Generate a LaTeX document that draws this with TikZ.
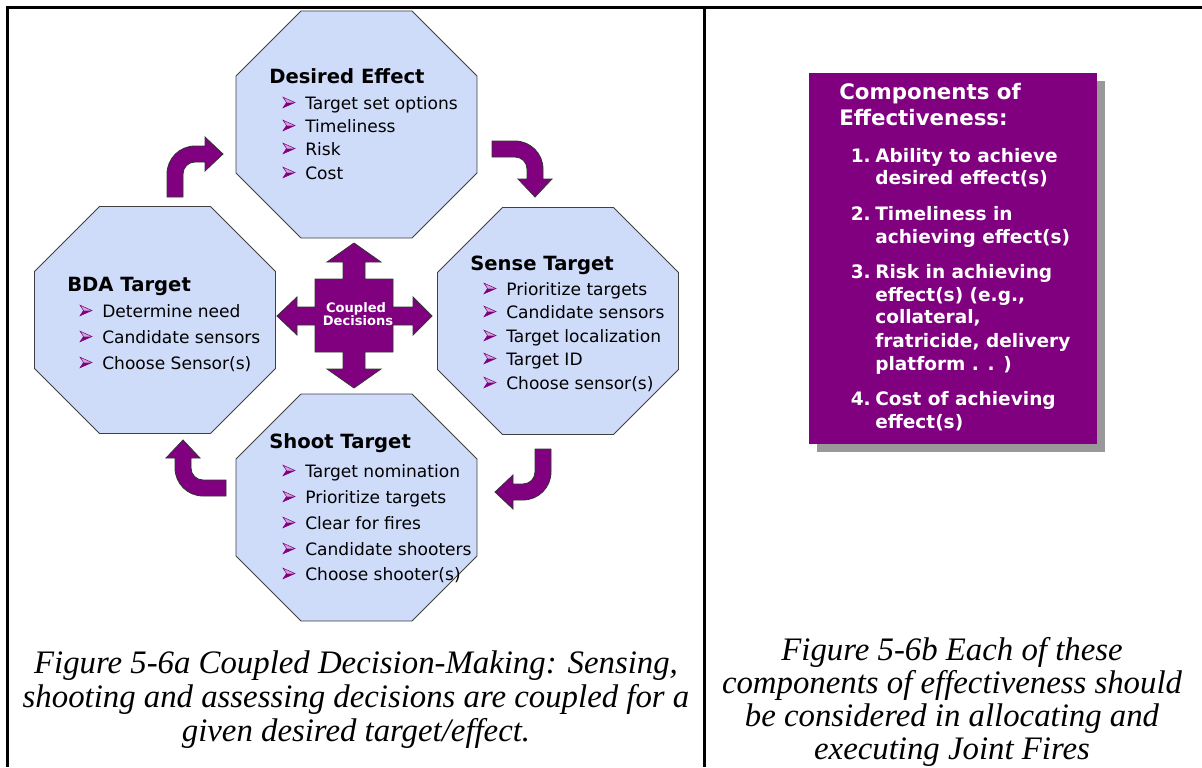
\documentclass[tikz,border=0pt]{standalone}
\usepackage{fontspec}
\setmainfont{DejaVu Sans}
\newfontfamily\capfont{Liberation Serif}
\definecolor{octfill}{RGB}{206,220,250}
\definecolor{purp}{RGB}{128,0,128}
\definecolor{shad}{RGB}{153,153,153}
\tikzset{
  octo/.style={fill=octfill, draw=black!75, line width=0.6pt, line join=miter},
  blockarrow/.style={fill=purp, draw=black!80, line width=0.6pt, line join=miter},
  framerule/.style={line width=2.25pt, black},
  ttl/.style={anchor=base west, inner sep=0pt, font=\fontsize{14.7}{17}\selectfont\bfseries},
  itm/.style={anchor=base west, inner sep=0pt, font=\fontsize{12.8}{15}\selectfont},
  boxttl/.style={anchor=base west, inner sep=0pt, text=white, font=\fontsize{16}{19}\selectfont\bfseries},
  boxnum/.style={anchor=base east, inner sep=0pt, text=white, font=\fontsize{13.9}{17}\selectfont\bfseries},
  boxtxt/.style={anchor=base west, inner sep=0pt, text=white, font=\fontsize{13.9}{17}\selectfont\bfseries},
  cpl/.style={anchor=base, inner sep=0pt, text=white, font=\fontsize{9.8}{11}\selectfont\bfseries},
  capt/.style={anchor=base, inner sep=0pt, font=\fontsize{24.6}{28}\selectfont\capfont\itshape},
  bul/.pic={
    \fill[purp!35] (-6,-5.3) -- (6,0) -- (-2.5,0) -- cycle;
    \fill[purp] (-2.5,0) -- (6,0) -- (-6,5.3) -- cycle;
    \draw[purp, line width=0.4pt, line join=miter] (-6,-5.3) -- (6,0) -- (-6,5.3) -- (-2.5,0) -- cycle;
  }
}
\newcommand\octagonat[3]{%
  \begin{scope}[shift={(#2,#3)}]
    \draw[octo] (-55.5,-113.5) -- (55.5,-113.5) -- (120.5,-48.5) -- (120.5,48.5)
      -- (55.5,113.5) -- (-55.5,113.5) -- (-120.5,48.5) -- (-120.5,-48.5) -- cycle;
    \coordinate (#1) at (0,0);
  \end{scope}}
\newcommand\bulitem[4]{%
  \pic at (#2-16,#3-6.5) {bul};
  \node[itm] (#1) at (#2,#3) {#4};}
\newcommand\bentarrow[4]{%
  \begin{scope}[shift={(#2,#3)}, rotate=#4]
    \draw[blockarrow] (0,0) -- (-18,-17) -- (-18,-8) -- (-28,-8)
      .. controls (-43.46,-8) and (-56,4.54) .. (-56,20) -- (-56,43) -- (-40,43) -- (-40,20)
      .. controls (-40,13.37) and (-34.63,8) .. (-28,8) -- (-18,8) -- (-18,17) -- cycle;
    \coordinate (#1) at (0,0);
  \end{scope}}
\begin{document}
\begin{tikzpicture}[x=0.75pt, y=-0.75pt]
\useasboundingbox (0,0) rectangle (1202,767);
% frame
\coordinate (tr) at (1202,7.5);
\coordinate (bl) at (7.5,767);
\coordinate (mt) at (704.5,7.5);
\coordinate (mb) at (704.5,767);
\draw[framerule] (tr) -- (7.5,7.5) -- (bl);
\draw[framerule] (mt) -- (mb);

% octagons
\octagonat{desired}{356.5}{124.5}
\octagonat{bda}{155}{320}
\octagonat{sense}{558}{321}
\octagonat{shoot}{356.5}{507.5}

% Desired Effect
\node[ttl] (tdes) at (269,84) {Desired Effect};
\bulitem{d1}{305}{109}{Target set options}
\bulitem{d2}{305}{132}{Timeliness}
\bulitem{d3}{305}{155}{Risk}
\bulitem{d4}{305}{179}{Cost}

% Sense Target
\node[ttl] (tsen) at (470,270) {Sense Target};
\bulitem{s1}{506}{295}{Prioritize targets}
\bulitem{s2}{506}{318}{Candidate sensors}
\bulitem{s3}{506}{342}{Target localization}
\bulitem{s4}{506}{365}{Target ID}
\bulitem{s5}{506}{389}{Choose sensor(s)}

% BDA Target
\node[ttl] (tbda) at (67,291) {BDA Target};
\bulitem{b1}{102}{317}{Determine need}
\bulitem{b2}{102}{343}{Candidate sensors}
\bulitem{b3}{102}{369}{Choose Sensor(s)}

% Shoot Target
\node[ttl] (tsho) at (269,448) {Shoot Target};
\bulitem{h1}{305}{477}{Target nomination}
\bulitem{h2}{305}{503}{Prioritize targets}
\bulitem{h3}{305}{529}{Clear for fires}
\bulitem{h4}{305}{555}{Candidate shooters}
\bulitem{h5}{305}{580}{Choose shooter(s)}

% bent arrows
\bentarrow{a1}{223}{154}{0}
\bentarrow{a2}{535}{197}{-90}
\bentarrow{a3}{495}{492}{180}
\bentarrow{a4}{183}{440}{90}

% coupled decisions cross
\draw[blockarrow] (354,243) -- (381,262) -- (365,262) -- (365,279) -- (393,279) -- (393,307)
  -- (413,307) -- (413,297) -- (432,316) -- (413,335) -- (413,325) -- (393,325) -- (393,352)
  -- (365,352) -- (365,369) -- (381,369) -- (354,388) -- (327,369) -- (343,369) -- (343,352)
  -- (315,352) -- (315,325) -- (297,325) -- (297,335) -- (277,316) -- (297,297) -- (297,307)
  -- (315,307) -- (315,279) -- (343,279) -- (343,262) -- (327,262) -- cycle;
\node[cpl] (c1) at (356,312.5) {Coupled};
\node[cpl] (c2) at (358,325) {Decisions};

% right box
\fill[shad] (817,81) rectangle (1105,452);
\fill[purp] (809,73) rectangle (1097,444);
\node[boxttl] (bt1) at (839,99) {Components of};
\node[boxttl] (bt2) at (839,125) {Effectiveness:};
\node[boxnum] (n1) at (871,162) {1.};
\node[boxtxt] (e1a) at (875,162) {Ability to achieve};
\node[boxtxt] (e1b) at (875,184) {desired effect(s)};
\node[boxnum] (n2) at (871,220) {2.};
\node[boxtxt] (e2a) at (875,220) {Timeliness in};
\node[boxtxt] (e2b) at (875,243) {achieving effect(s)};
\node[boxnum] (n3) at (871,278) {3.};
\node[boxtxt] (e3a) at (875,278) {Risk in achieving};
\node[boxtxt] (e3b) at (875,301) {effect(s) (e.g.,};
\node[boxtxt] (e3c) at (875,323) {collateral,};
\node[boxtxt] (e3d) at (875,347) {fratricide, delivery};
\node[boxtxt] (e3e) at (875,370) {platform . . )};
\node[boxnum] (n4) at (871,405) {4.};
\node[boxtxt] (e4a) at (875,405) {Cost of achieving};
\node[boxtxt] (e4b) at (875,428) {effect(s)};

% captions
\node[capt] (la) at (356,673) {Figure 5-6a Coupled Decision-Making: Sensing,};
\node[capt] (lb) at (356,707) {shooting and assessing decisions are coupled for a};
\node[capt] (lc) at (356,741) {given desired target/effect.};
\node[capt] (ra) at (952,660) {Figure 5-6b Each of these};
\node[capt] (rb) at (952,693) {components of effectiveness should};
\node[capt] (rc) at (952,726) {be considered in allocating and};
\node[capt] (rd) at (952,759) {executing Joint Fires};
\end{tikzpicture}
\end{document}
